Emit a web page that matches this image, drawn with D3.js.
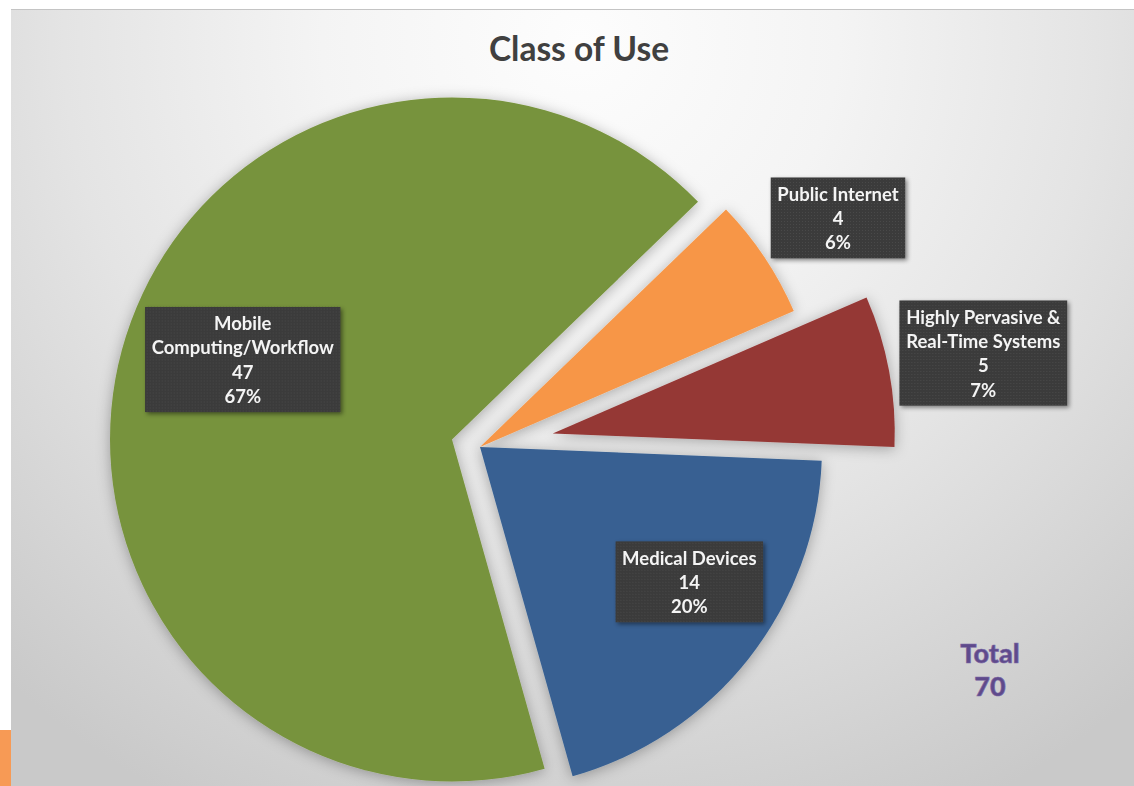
<!DOCTYPE html>
<html>
<head>
<meta charset="utf-8">
<script src="https://cdn.jsdelivr.net/npm/d3@7"></script>
<style>
    body { margin: 0; background: #ffffff; }
    svg { display: block; }
</style>
</head>
<body>
<div id="canvas"></div>
<script>
"use strict";

/* -------------------- Data -------------------- */

let categories = ["Public Internet", "Highly Pervasive & Real-Time Systems", "Medical Devices", "Mobile Computing/Workflow"];
let labelLines = [["Public Internet"], ["Highly Pervasive &", "Real-Time Systems"], ["Medical Devices"], ["Mobile", "Computing/Workflow"]];
let values = [4, 5, 14, 47];
let titleText = "Class of Use";

/* -------------------- Configuration -------------------- */

let svgWidth = 1134;
let svgHeight = 786;
let cx = 480;
let cy = 447;
let radius = 342;
let firstAngle = 46; // degrees, clockwise from 12 o'clock

let colors = ["#f79646", "#953735", "#376092", "#77933c"];
let explode = [0, 74, 0, 29];
let labelShift = [1.1, 0, -5.5, 5.75];
let labelDist = [425, 438, 249, 224];
let lineHeight = 24.3;

let total = d3.sum(values);
let pct = d3.format(".0%");
let rad = Math.PI / 180;

let svg = d3.select("#canvas")
    .append("svg")
    .attr("width", svgWidth)
    .attr("height", svgHeight);

let defs = svg.append("defs");

/* Background gradient */
let bg = defs.append("radialGradient")
    .attr("id", "bg")
    .attr("gradientUnits", "userSpaceOnUse")
    .attr("cx", 580)
    .attr("cy", 40)
    .attr("r", 860);
bg.append("stop").attr("offset", 0).attr("stop-color", "#fdfdfd");
bg.append("stop").attr("offset", 0.3).attr("stop-color", "#f4f4f4");
bg.append("stop").attr("offset", 0.6).attr("stop-color", "#e4e4e4");
bg.append("stop").attr("offset", 1).attr("stop-color", "#c9c9c9");

/* Soft halo under the slices */
let halo = defs.append("filter")
    .attr("id", "halo")
    .attr("x", "-20%").attr("y", "-20%")
    .attr("width", "140%").attr("height", "140%");
halo.append("feDropShadow")
    .attr("dx", 0).attr("dy", 2)
    .attr("stdDeviation", 7)
    .attr("flood-color", "#000")
    .attr("flood-opacity", 0.3);

/* Label box shadow */
let boxShadow = defs.append("filter")
    .attr("id", "boxShadow")
    .attr("x", "-20%").attr("y", "-20%")
    .attr("width", "140%").attr("height", "140%");
boxShadow.append("feDropShadow")
    .attr("dx", 2).attr("dy", 2)
    .attr("stdDeviation", 2)
    .attr("flood-color", "#000")
    .attr("flood-opacity", 0.45);

/* Dotted texture for label boxes */
let dots = defs.append("pattern")
    .attr("id", "dots")
    .attr("width", 3)
    .attr("height", 3)
    .attr("patternUnits", "userSpaceOnUse");
dots.append("rect").attr("width", 3).attr("height", 3).attr("fill", "#3a3a3a");
dots.append("rect").attr("width", 1).attr("height", 1).attr("fill", "#4b4b4b");

/* -------------------- Background -------------------- */

svg.append("rect")
    .attr("x", 11)
    .attr("y", 9)
    .attr("width", svgWidth - 11)
    .attr("height", svgHeight - 9)
    .attr("fill", "url(#bg)");

svg.append("line")
    .attr("x1", 11).attr("x2", svgWidth)
    .attr("y1", 9.5).attr("y2", 9.5)
    .attr("stroke", "#c4c4c4");

/* Slide decoration peeking in at bottom left */
svg.append("rect")
    .attr("x", 0)
    .attr("y", 730)
    .attr("width", 11)
    .attr("height", 56)
    .attr("fill", "#f79a55");

/* -------------------- Title -------------------- */

svg.append("text")
    .attr("x", 579)
    .attr("y", 61)
    .attr("text-anchor", "middle")
    .attr("font-family", "Lato, sans-serif")
    .attr("font-weight", "bold")
    .attr("font-size", 33.5)
    .attr("fill", "#404040")
    .text(titleText);

/* -------------------- Pie -------------------- */

let pie = d3.pie()
    .sort(null)
    .startAngle(firstAngle * rad)
    .endAngle(firstAngle * rad + 2 * Math.PI);

let arcs = pie(values);

let arc = d3.arc()
    .innerRadius(0)
    .outerRadius(radius);

function offset(d, dist) {
    let a = (d.startAngle + d.endAngle) / 2;
    return [Math.sin(a) * dist, -Math.cos(a) * dist];
}

let slices = svg.append("g")
    .attr("transform", "translate(" + cx + "," + cy + ")")
    .attr("filter", "url(#halo)");

slices.selectAll("path")
    .data(arcs)
    .join("path")
    .attr("transform", function (d, i) {
        let o = offset(d, explode[i]);
        return "translate(" + o[0] + "," + o[1] + ")";
    })
    .attr("d", arc)
    .attr("fill", function (d, i) {
        return colors[i];
    });

/* -------------------- Data Labels -------------------- */

let labels = svg.append("g")
    .attr("transform", "translate(" + cx + "," + cy + ")")
    .selectAll("g")
    .data(arcs)
    .join("g")
    .attr("transform", function (d, i) {
        let o = offset(d, explode[i]);
        let a = (d.startAngle + d.endAngle) / 2 + labelShift[i] * rad;
        let x = o[0] + Math.sin(a) * labelDist[i];
        let y = o[1] - Math.cos(a) * labelDist[i];
        return "translate(" + x + "," + y + ")";
    });

labels.each(function (d, i) {
    let g = d3.select(this);
    let lines = labelLines[i].concat([String(values[i]), pct(values[i] / total)]);
    let h = lines.length * lineHeight + 8;

    let box = g.append("rect")
        .attr("fill", "url(#dots)")
        .attr("filter", "url(#boxShadow)");

    let txt = g.append("text")
        .attr("text-anchor", "middle")
        .attr("font-family", "Lato, sans-serif")
        .attr("font-weight", "bold")
        .attr("font-size", 18.5)
        .attr("fill", "#f4f4f4");

    txt.selectAll("tspan")
        .data(lines)
        .join("tspan")
        .attr("x", 0)
        .attr("y", function (t, j) {
            return -h / 2 + 4 + lineHeight * j + lineHeight / 2;
        })
        .attr("dominant-baseline", "central")
        .text(function (t) {
            return t;
        });

    let w = txt.node().getBBox().width + 13;
    box.attr("x", -w / 2)
        .attr("y", -h / 2)
        .attr("width", w)
        .attr("height", h);
});

/* -------------------- Total -------------------- */

let totalText = svg.append("text")
    .attr("x", 990)
    .attr("text-anchor", "middle")
    .attr("font-family", "Lato, sans-serif")
    .attr("font-weight", "900")
    .attr("font-size", 27)
    .attr("fill", "#5f4a8b")
    .attr("stroke", "#7d6aa8")
    .attr("stroke-width", 0.6);

totalText.append("tspan").attr("x", 990).attr("y", 663).text("Total");
totalText.append("tspan").attr("x", 990).attr("y", 696).text(String(total));
</script>
</body>
</html>
